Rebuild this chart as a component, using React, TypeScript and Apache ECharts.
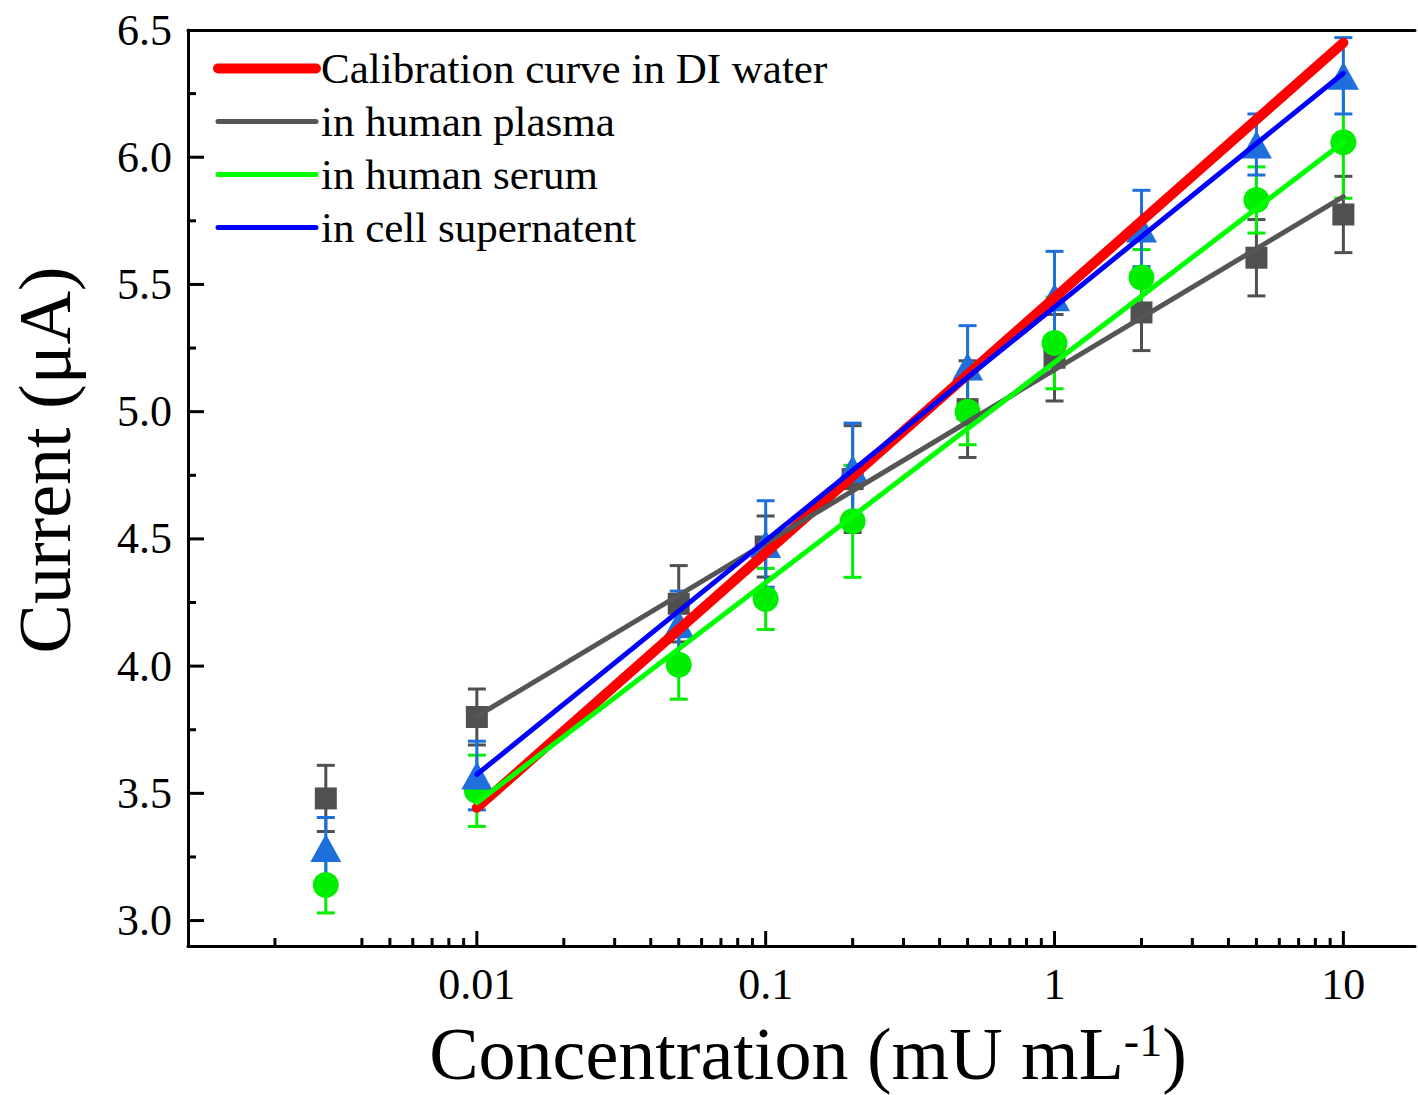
import React, { useEffect, useRef } from "react";
import * as echarts from "echarts";

const concentrations = [0.003, 0.01, 0.05, 0.1, 0.2, 0.5, 1, 2, 5, 10];

const plasmaMean = [3.48, 3.8, 4.245, 4.47, 4.735, 5.01, 5.212, 5.39, 5.605, 5.775];
const plasmaErr = [0.13, 0.11, 0.15, 0.12, 0.21, 0.19, 0.17, 0.15, 0.15, 0.15];

const serumMean = [3.14, 3.51, 4.005, 4.264, 4.569, 5.0, 5.27, 5.527, 5.832, 6.059];
const serumErr = [0.11, 0.14, 0.135, 0.12, 0.22, 0.13, 0.18, 0.11, 0.13, 0.22];

const cellMean = [3.285, 3.57, 4.165, 4.48, 4.775, 5.178, 5.45, 5.72, 6.05, 6.32];
const cellErr = [0.12, 0.135, 0.13, 0.17, 0.18, 0.16, 0.18, 0.15, 0.12, 0.15];

const fitRange = [0.01, 10];
const fitDI = [3.443, 6.45];
const fitPlasma = [3.803, 5.845];
const fitSerum = [3.463, 6.059];
const fitCell = [3.574, 6.33];

const legendNames = [
  "Calibration curve in DI water",
  "in human plasma",
  "in human serum",
  "in cell supernatent",
];

const xMajorTicks = [0.01, 0.1, 1, 10];
const xTickLabels = ["0.01", "0.1", "1", "10"];
const xMinorTicks = [
  0.002, 0.004, 0.005, 0.006, 0.007, 0.008, 0.009,
  0.02, 0.03, 0.04, 0.05, 0.06, 0.07, 0.08, 0.09,
  0.2, 0.3, 0.4, 0.5, 0.6, 0.7, 0.8, 0.9,
  2, 3, 4, 5, 6, 7, 8, 9,
];
const yMajorTicks = [3.0, 3.5, 4.0, 4.5, 5.0, 5.5, 6.0];
const yMinorTicks = [3.25, 3.75, 4.25, 4.75, 5.25, 5.75, 6.25];

const X_MIN = 0.001;
const X_MAX = 17.7;
const Y_MIN = 2.9;
const Y_MAX = 6.5;

const FF = "'Liberation Serif', 'Times New Roman', serif";

const COLORS = {
  red: "#ff0000",
  grayLine: "#555555",
  greenLine: "#00ff00",
  blueLine: "#0000ff",
  grayMarker: "#505050",
  greenMarker: "#00ee00",
  blueMarker: "#1e6fdc",
};

function errorSeries(name: string, mean: number[], err: number[], color: string) {
  return {
    type: "custom",
    name,
    xAxisIndex: 0,
    yAxisIndex: 0,
    encode: { x: 0, y: 1 },
    data: concentrations.map((c, i) => [c, mean[i], err[i]]),
    renderItem: (params: any, api: any) => {
      const x = api.value(0);
      const y = api.value(1);
      const e = api.value(2);
      const top = api.coord([x, y + e]);
      const bot = api.coord([x, y - e]);
      const hw = 9;
      const style = { stroke: color, lineWidth: 3 };
      return {
        type: "group",
        children: [
          { type: "line", shape: { x1: top[0], y1: top[1], x2: bot[0], y2: bot[1] }, style },
          { type: "line", shape: { x1: top[0] - hw, y1: top[1], x2: top[0] + hw, y2: top[1] }, style },
          { type: "line", shape: { x1: bot[0] - hw, y1: bot[1], x2: bot[0] + hw, y2: bot[1] }, style },
        ],
      };
    },
    silent: true,
    z: 2,
  };
}

function scatterSeries(name: string, mean: number[], color: string, symbol: string, size: any) {
  return {
    type: "scatter",
    name,
    data: concentrations.map((c, i) => [c, mean[i]]),
    symbol,
    symbolSize: size,
    itemStyle: { color, opacity: 1 },
    silent: true,
    z: 2,
  };
}

function fitSeries(name: string, ends: number[], color: string, width: number) {
  return {
    type: "line",
    name,
    data: fitRange.map((x, i) => [x, ends[i]]),
    symbol: "none",
    showSymbol: false,
    lineStyle: { color, width, cap: "round" },
    itemStyle: { color },
    silent: true,
    z: 3,
  };
}

function tickSeries(values: number[], len: number, axis: "x" | "y") {
  return {
    type: "custom",
    silent: true,
    z: 5,
    encode: { x: 0, y: 1 },
    data: values.map((v) => (axis === "x" ? [v, Y_MIN] : [X_MIN, v])),
    renderItem: (params: any, api: any) => {
      const p = api.coord([api.value(0), api.value(1)]);
      const shape =
        axis === "x"
          ? { x1: p[0], y1: p[1], x2: p[0], y2: p[1] - len }
          : { x1: p[0], y1: p[1], x2: p[0] + len, y2: p[1] };
      return { type: "line", shape, style: { stroke: "#000", lineWidth: 3 } };
    },
  };
}

function legendItem(name: string, color: string, width: number) {
  return {
    name,
    lineStyle: { width, cap: "round", color },
    itemStyle: { opacity: 0, color: "rgba(0,0,0,0)", borderWidth: 0 },
  };
}

export default function App() {
  const ref = useRef<HTMLDivElement>(null);

  useEffect(() => {
    if (!ref.current) return;
    const chart = echarts.init(ref.current, null, { renderer: "svg" });

    const option: any = {
      animation: false,
      backgroundColor: "#ffffff",
      grid: { left: 188, top: 30, right: 0, bottom: 149, containLabel: false },
      legend: {
        show: true,
        orient: "vertical",
        left: 208,
        top: 42,
        itemWidth: 98,
        itemHeight: 20,
        itemGap: 10,
        selectedMode: false,
        textStyle: { fontFamily: FF, fontSize: 43, color: "#000", lineHeight: 43 },
        data: [
          legendItem(legendNames[0], COLORS.red, 10),
          legendItem(legendNames[1], COLORS.grayLine, 5),
          legendItem(legendNames[2], COLORS.greenLine, 5),
          legendItem(legendNames[3], COLORS.blueLine, 5),
        ],
      },
      xAxis: [
        {
          type: "log",
          min: X_MIN,
          max: X_MAX,
          logBase: 10,
          axisLine: { show: true, lineStyle: { color: "#000", width: 3 } },
          axisTick: { show: false },
          splitLine: { show: false },
          axisLabel: {
            margin: 16,
            fontFamily: FF,
            fontSize: 44,
            color: "#000",
            formatter: (v: number) => {
              const lv = Math.log10(v);
              for (let i = 0; i < xMajorTicks.length; i++) {
                if (Math.abs(Math.log10(xMajorTicks[i]) - lv) < 1e-6) return xTickLabels[i];
              }
              return "";
            },
          },
        },
        {
          type: "log",
          position: "top",
          min: X_MIN,
          max: X_MAX,
          axisLine: { show: true, lineStyle: { color: "#000", width: 3 } },
          axisTick: { show: false },
          axisLabel: { show: false },
          splitLine: { show: false },
        },
      ],
      yAxis: {
        type: "value",
        min: Y_MIN,
        max: Y_MAX,
        splitNumber: 7,
        axisLine: { show: true, lineStyle: { color: "#000", width: 3 } },
        axisTick: { show: false },
        splitLine: { show: false },
        axisLabel: {
          margin: 16,
          fontFamily: FF,
          fontSize: 44,
          color: "#000",
          formatter: (v: number) => (v >= 2.95 ? v.toFixed(1) : ""),
        },
      },
      graphic: [
        {
          type: "text",
          x: 45,
          y: 460,
          rotation: Math.PI / 2,
          style: {
            text: "Current (μA)",
            fontFamily: FF,
            fontSize: 74,
            fill: "#000",
            align: "center",
            verticalAlign: "middle",
          },
        },
        {
          type: "text",
          x: 808,
          y: 1054,
          style: {
            text: "{a|Concentration (mU mL}{s|-1}{a|)}",
            align: "center",
            verticalAlign: "middle",
            rich: {
              a: { fontFamily: FF, fontSize: 74, fill: "#000", lineHeight: 74 },
              s: { fontFamily: FF, fontSize: 46, fill: "#000", verticalAlign: "top" },
            },
          },
        },
      ],
      series: [
        errorSeries("plasmaErr", plasmaMean, plasmaErr, COLORS.grayMarker),
        scatterSeries("plasmaPts", plasmaMean, COLORS.grayMarker, "rect", 22),
        errorSeries("serumErr", serumMean, serumErr, COLORS.greenMarker),
        scatterSeries("serumPts", serumMean, COLORS.greenMarker, "circle", 26),
        errorSeries("cellErr", cellMean, cellErr, COLORS.blueMarker),
        scatterSeries("cellPts", cellMean, COLORS.blueMarker, "triangle", [31, 28]),
        fitSeries(legendNames[0], fitDI, COLORS.red, 10),
        fitSeries(legendNames[1], fitPlasma, COLORS.grayLine, 5),
        fitSeries(legendNames[2], fitSerum, COLORS.greenLine, 5),
        fitSeries(legendNames[3], fitCell, COLORS.blueLine, 5),
        tickSeries(xMajorTicks, 15, "x"),
        tickSeries(xMinorTicks, 8, "x"),
        tickSeries(yMajorTicks, 16, "y"),
        tickSeries(yMinorTicks, 8, "y"),
      ],
    };

    chart.setOption(option);
    return () => chart.dispose();
  }, []);

  return (
    <div
      ref={ref}
      style={{ position: "absolute", left: 0, top: 0, width: 1418, height: 1095 }}
    />
  );
}
